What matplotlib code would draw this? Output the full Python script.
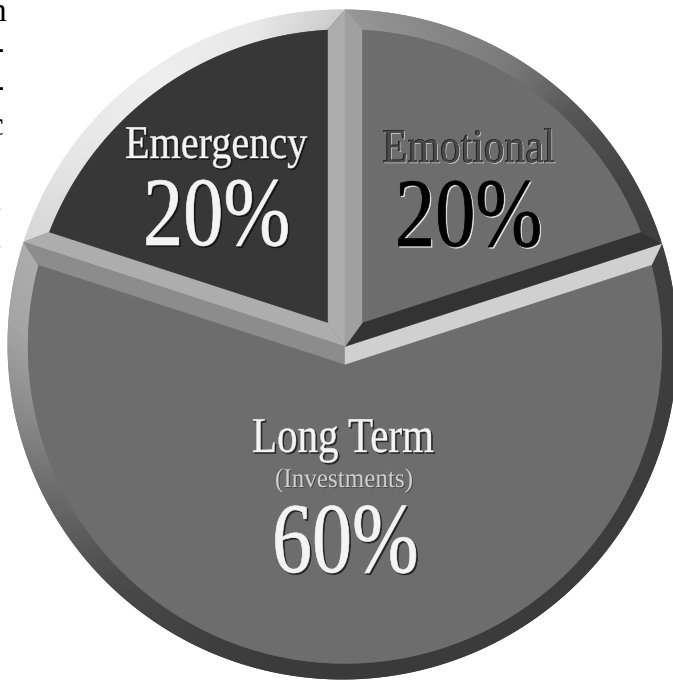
import numpy as np
import matplotlib
matplotlib.use("Agg")
import matplotlib.pyplot as plt
import matplotlib.patheffects as pe
from matplotlib.colors import to_rgb
from matplotlib.patches import Polygon
from matplotlib.transforms import Affine2D

plt.rcParams['font.family'] = ['Liberation Serif', 'DejaVu Serif']

# shares, going counter clockwise from the top
labels = ['Emergency', 'Long Term', 'Emotional']
shares = [20, 60, 20]
percent_labels = ['20%', '60%', '20%']
sub_label = '(Investments)'
face_colors = ['#373737', '#6d6d6d', '#6d6d6d']

# bevel greys: (start of the wedge side, end of the wedge side)
side_colors = [('#adadad', '#adadad'), ('#8c8c8c', '#d0d0d0'), ('#333333', '#a0a0a0')]

# outer rim shading, angle in degrees -> grey level
rim_angles = [18, 30, 45, 60, 75, 90, 90.01, 105, 125, 145, 161.99, 162, 175, 190, 205, 225, 250, 270, 378]
rim_greys = [62, 68, 85, 122, 135, 150, 205, 232, 238, 230, 215, 172, 165, 140, 108, 74, 60, 58, 62]

# bits of the page text cut off by the left edge
margin_chars = ['n', '-', '-', 'c', '.', '.', '.', '.', '.']
margin_x = [6, 4, 4, 3, 2, 2, 0.8, 0.8, 0.8]
margin_y = [21, 59, 97, 135, 211, 249, 287, 333, 428]


class Squeezed(pe.AbstractPathEffect):
    # narrows the glyphs, the artwork uses a condensed serif
    def __init__(self, sx, offset=(0, 0), color=None, alpha=None, lw=0):
        super().__init__(offset)
        self.sx = sx
        self.color = to_rgb(color) if color else None
        self.alpha = alpha
        self.lw = lw

    def draw_path(self, renderer, gc, tpath, affine, rgbFace=None):
        x0 = affine.get_matrix()[0, 2]
        a = affine + Affine2D().translate(-x0, 0).scale(self.sx, 1).translate(x0 + self._offset[0], self._offset[1])
        col = self.color if self.color else rgbFace
        gc2 = renderer.new_gc()
        gc2.copy_properties(gc)
        if self.alpha is not None:
            gc2.set_alpha(self.alpha)
        gc2.set_foreground(col)
        gc2.set_linewidth(self.lw)
        renderer.draw_path(gc2, tpath, a, col)
        gc2.restore()


W, H = 673, 681
# spokes meet at the hub, the outer edge circle sits a little off it
hx, hy = 345, H - 346.5
ox, oy = 342.5, H - 344.5
R = 335
R_in = 317
bevel = 17.5

fig = plt.figure(figsize=(6.73, 6.81), dpi=100)
ax = fig.add_axes([0, 0, 1, 1])

# base pie
ax.pie(shares, colors=face_colors, startangle=90, center=(ox, oy), radius=R - 2, frame=True,
       wedgeprops={'linewidth': 0})
ax.set_xlim(0, W)
ax.set_ylim(0, H)
ax.set_aspect('equal')
ax.axis('off')


def pt(r, ang):
    return (hx + r * np.cos(np.radians(ang)), hy + r * np.sin(np.radians(ang)))


def edge(ang):
    # where the ray from the hub leaves the outer circle
    dx, dy = np.cos(np.radians(ang)), np.sin(np.radians(ang))
    px, py = hx - ox, hy - oy
    b = px * dx + py * dy
    t = -b + np.sqrt(b * b - (px * px + py * py - R * R))
    return (hx + t * dx, hy + t * dy)


def to_y(px_y):
    return H - px_y


delta = np.degrees(np.arcsin(bevel / R_in))
start = 90
for i, share in enumerate(shares):
    t1 = start
    t2 = start + share / sum(shares) * 360
    start = t2
    half = (t2 - t1) / 2
    mid = t1 + half
    apex = pt(bevel / np.sin(np.radians(half)), mid)

    # rim, many short pieces so the shading runs along it
    n = int(t2 - t1) * 2
    outer = np.linspace(t1, t2, n + 1)
    inner = np.linspace(t1 + delta, t2 - delta, n + 1)
    for k in range(n):
        a = (outer[k] + outer[k + 1]) / 2
        if a > 378:
            a -= 360
        g = np.interp(a, rim_angles, rim_greys) / 255
        # each piece runs on under the next one, no seams
        end = min(k + 2, n)
        quad = [edge(outer[k]), edge(outer[end]), pt(R_in, inner[end]), pt(R_in, inner[k])]
        ax.add_patch(Polygon(quad, closed=True, fc=(g, g, g), ec='none', lw=0))

    # the two sides along the spokes
    c1, c2 = side_colors[i]
    ax.add_patch(Polygon([(hx, hy), edge(t1), pt(R_in, t1 + delta), apex], closed=True, fc=c1, ec=c1, lw=0.3))
    ax.add_patch(Polygon([(hx, hy), edge(t2), pt(R_in, t2 - delta), apex], closed=True, fc=c2, ec=c2, lw=0.3))

    # flat face
    arc = [pt(R_in, a) for a in np.linspace(t1 + delta, t2 - delta, 120)]
    ax.add_patch(Polygon([apex] + arc, closed=True, fc=face_colors[i], ec=face_colors[i], lw=0.3))


def white_fx(sx, lw=0.5):
    return [Squeezed(sx, (1.6, -1.6), '#000000', 0.55, lw),
            Squeezed(sx, (0.8, -0.8), '#222222', 0.6, lw),
            Squeezed(sx, (0, 0), '#f4f4f4', None, lw)]


def dark_fx(sx):
    return [Squeezed(sx, (1.2, -1.2), '#e6e6e6', None, 0.5),
            Squeezed(sx, (0, 0), '#000000', None, 0.5)]


def put(x, y, s, px, fx, **kw):
    ax.text(x, to_y(y), s, fontsize=px * 0.72, ha='left', va='baseline',
            path_effects=fx, **kw)


put(125, 158, labels[0], 47, white_fx(0.855, 0.3))
put(143, 245, percent_labels[0], 98, white_fx(0.82))

put(382, 162, labels[2], 48, [Squeezed(0.865, (1.0, -1.0), '#d8d8d8', None, 0.3),
                              Squeezed(0.865, (0, 0), '#0c0c0c', None, 0.3),
                              Squeezed(0.865, (0.5, -0.3), '#4a4a4a')])
put(395, 246, percent_labels[2], 98, dark_fx(0.82))

put(252, 452, labels[1], 50, white_fx(0.82, 0.3))
put(275, 487, sub_label, 27, [Squeezed(0.93, (1.0, -1.0), '#333333', 0.6),
                              Squeezed(0.93, (0, 0), '#d0d0d0')])
put(272, 572, percent_labels[1], 100, white_fx(0.8))

for ch, x, y in zip(margin_chars, margin_x, margin_y):
    ax.text(x, to_y(y), ch, fontsize=24, color='black', ha='right', va='baseline')

fig.savefig('out.png', dpi=100, facecolor='white')
